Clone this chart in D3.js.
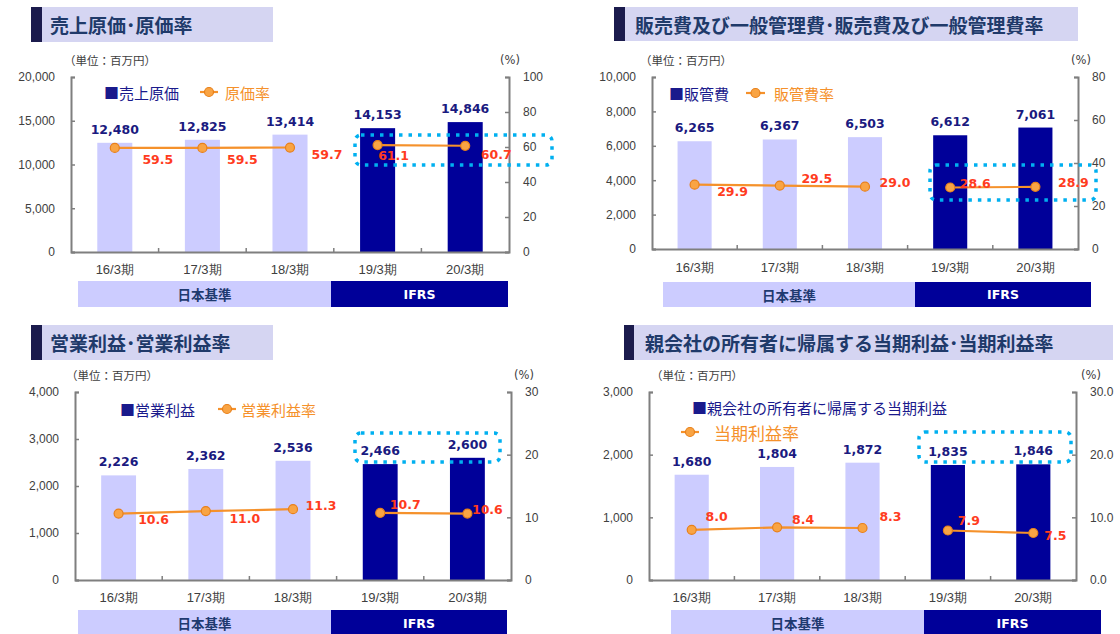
<!DOCTYPE html>
<html>
<head>
<meta charset="utf-8">
<script src="https://cdn.jsdelivr.net/npm/d3@7"></script>
<style>
  body { margin: 0; background: #fff; }
  svg { display: block; font-family: "DejaVu Sans", "Noto Sans CJK JP", sans-serif; }
  .jp { font-family: "Noto Sans CJK JP", sans-serif; }
</style>
</head>
<body>
<svg id="chart" width="1120" height="634"></svg>
<script>
// ---- data ----
const periods = ["16/3期", "17/3期", "18/3期", "19/3期", "20/3期"];
const standardOf = ["日本基準", "日本基準", "日本基準", "IFRS", "IFRS"];

const costValues = [12480, 12825, 13414, 14153, 14846];
const costRates = [59.5, 59.5, 59.7, 61.1, 60.7];
const costTicks = [0, 5000, 10000, 15000, 20000];
const costRateTicks = [0, 20, 40, 60, 80, 100];

const sgaValues = [6265, 6367, 6503, 6612, 7061];
const sgaRates = [29.9, 29.5, 29.0, 28.6, 28.9];
const sgaTicks = [0, 2000, 4000, 6000, 8000, 10000];
const sgaRateTicks = [0, 20, 40, 60, 80];

const opValues = [2226, 2362, 2536, 2466, 2600];
const opRates = [10.6, 11.0, 11.3, 10.7, 10.6];
const opTicks = [0, 1000, 2000, 3000, 4000];
const opRateTicks = [0, 10, 20, 30];

const netValues = [1680, 1804, 1872, 1835, 1846];
const netRates = [8.0, 8.4, 8.3, 7.9, 7.5];
const netTicks = [0, 1000, 2000, 3000];
const netRateTicks = [0, 10, 20, 30];

const LIGHT = "#ccccff", DARK = "#000099", ORANGE = "#f5912b", RATE_TXT = "#ff3c1e";

const svg = d3.select("#chart");

// layout of each panel
const panels = [
  {
    title: "売上原価･原価率", barName: "売上原価", rateName: "原価率",
    values: costValues, rates: costRates, leftTicks: costTicks, rightTicks: costRateTicks, rightFmt: d3.format("d"),
    L: { title: [31, 7, 273, 35, 11], titleTx: 50, unit: [64, 60], pct: 500,
         x0: 71, x1: 509, yTop: 77, yBot: 252,
         leg1: [104, 92], leg2: [200, 218, 92, 225], leg2Size: 15,
         box: [355, 135, 552, 165], band: [78, 331, 508, 281, 26], xlab: 272,
         offs: [[43, 12], [40, 12], [37, 7], [16, 10], [31, 9]] }
  },
  {
    title: "販売費及び一般管理費･販売費及び一般管理費率", barName: "販管費", rateName: "販管費率",
    values: sgaValues, rates: sgaRates, leftTicks: sgaTicks, rightTicks: sgaRateTicks, rightFmt: d3.format("d"),
    L: { title: [614, 7, 1078, 34, 11], titleTx: 635, unit: [640, 60], pct: 1071,
         x0: 652, x1: 1078, yTop: 77, yBot: 249,
         leg1: [669, 93], leg2: [746, 765, 93, 774], leg2Size: 15,
         box: [930, 165, 1096, 200], band: [663, 915, 1091, 282, 25], xlab: 270,
         offs: [[38, 7], [37, -7], [30, -4], [25, -4], [38, -4]] }
  },
  {
    title: "営業利益･営業利益率", barName: "営業利益", rateName: "営業利益率",
    values: opValues, rates: opRates, leftTicks: opTicks, rightTicks: opRateTicks, rightFmt: d3.format("d"),
    L: { title: [31, 325, 273, 35, 11], titleTx: 50, unit: [66, 375], pct: 514,
         x0: 75, x1: 511, yTop: 392, yBot: 580,
         leg1: [120, 409], leg2: [218, 236, 409, 241], leg2Size: 15,
         box: [355, 433, 500, 462], band: [78, 331, 507, 610, 26], xlab: 600,
         offs: [[35, 6], [39, 7], [28, -4], [25, -8], [20, -4]] }
  },
  {
    title: "親会社の所有者に帰属する当期利益･当期利益率", barName: "親会社の所有者に帰属する当期利益", rateName: "当期利益率",
    values: netValues, rates: netRates, leftTicks: netTicks, rightTicks: netRateTicks, rightFmt: d3.format(".1f"),
    L: { title: [624, 325, 1113, 35, 10], titleTx: 645, unit: [651, 375], pct: 1081,
         x0: 649, x1: 1076, yTop: 392, yBot: 580,
         leg1: [692, 407], leg2: [681, 699, 432, 714], leg2Size: 17,
         box: [919, 432, 1071, 462], band: [671, 924, 1101, 610, 26], xlab: 600,
         offs: [[25, -13], [26, -8], [28, -11], [21, -10], [22, 2]] }
  }
];

function styleAxis(g) {
  g.select(".domain").attr("stroke", "#7f7f7f").attr("stroke-width", 2);
  g.selectAll(".tick line").attr("stroke", "#7f7f7f").attr("stroke-width", 1.5);
  g.selectAll(".tick text").attr("fill", "#404040").style("font-size", "12px");
}

function drawPanel(p) {
  const L = p.L;
  const g = svg.append("g");

  // title box
  g.append("rect").attr("x", L.title[0]).attr("y", L.title[1])
    .attr("width", L.title[2] - L.title[0]).attr("height", L.title[3]).attr("fill", "#d5d5f2");
  g.append("rect").attr("x", L.title[0]).attr("y", L.title[1])
    .attr("width", L.title[4]).attr("height", L.title[3]).attr("fill", "#1b1b4d");
  g.append("text").attr("class", "jp").attr("x", L.titleTx).attr("y", L.title[1] + L.title[3] / 2)
    .attr("dominant-baseline", "central").attr("fill", "#203a6a")
    .style("font-size", "19px").style("font-weight", "bold").text(p.title);

  g.append("text").attr("class", "jp").attr("x", L.unit[0]).attr("y", L.unit[1])
    .attr("dominant-baseline", "central").attr("fill", "#404040").style("font-size", "11.5px")
    .text("（単位：百万円）");
  g.append("text").attr("x", L.pct).attr("y", L.unit[1])
    .attr("dominant-baseline", "central").attr("fill", "#404040").style("font-size", "11.5px")
    .text("(%)");

  const x = d3.scaleBand().domain(periods).range([L.x0, L.x1]).paddingInner(0.6).paddingOuter(0.3);
  const y = d3.scaleLinear().domain([0, d3.max(p.leftTicks)]).range([L.yBot, L.yTop]);
  const yr = d3.scaleLinear().domain([0, d3.max(p.rightTicks)]).range([L.yBot, L.yTop]);

  // bars
  g.selectAll(".bar").data(p.values).enter().append("rect")
    .attr("x", (d, i) => x(periods[i]))
    .attr("y", d => y(d))
    .attr("width", x.bandwidth())
    .attr("height", d => L.yBot - y(d))
    .attr("fill", (d, i) => standardOf[i] === "IFRS" ? DARK : LIGHT);

  // axes
  const gl = g.append("g").attr("transform", "translate(" + L.x0 + ",0)")
    .call(d3.axisLeft(y).tickValues(p.leftTicks).tickFormat(d3.format(","))
      .tickSizeInner(-4).tickSizeOuter(-4).tickPadding(16));
  styleAxis(gl);

  const gr = g.append("g").attr("transform", "translate(" + L.x1 + ",0)")
    .call(d3.axisRight(yr).tickValues(p.rightTicks).tickFormat(p.rightFmt)
      .tickSizeInner(-4).tickSizeOuter(-4).tickPadding(14));
  styleAxis(gr);

  const gb = g.append("g").attr("transform", "translate(0," + L.yBot + ")")
    .call(d3.axisBottom(x).tickSize(0).tickPadding(L.xlab - L.yBot - 7));
  styleAxis(gb);
  gb.selectAll(".tick text").style("font-size", "13px");

  // category boundary ticks
  gb.selectAll(".sep").data(periods.slice(1)).enter().append("line")
    .attr("x1", d => x(d) - x.step() * x.paddingInner() / 2)
    .attr("x2", d => x(d) - x.step() * x.paddingInner() / 2)
    .attr("y1", 0).attr("y2", -4)
    .attr("stroke", "#7f7f7f").attr("stroke-width", 1.5);

  // value labels
  g.selectAll(".vlab").data(p.values).enter().append("text")
    .attr("x", (d, i) => x(periods[i]) + x.bandwidth() / 2)
    .attr("y", d => y(d) - 9)
    .attr("text-anchor", "middle").attr("fill", "#1a1a80")
    .style("font-size", "12.5px").style("font-weight", "bold")
    .text(d => d3.format(",")(d));

  // dotted highlight box
  const b = L.box;
  g.append("rect").attr("x", b[0]).attr("y", b[1]).attr("width", b[2] - b[0]).attr("height", b[3] - b[1])
    .attr("rx", 6).attr("fill", "none").attr("stroke", "#00b0f0")
    .attr("stroke-width", 3.5).attr("stroke-dasharray", "3.5 6");

  // rate line, split by accounting standard
  const cx = i => x(periods[i]) + x.bandwidth() / 2;
  const line = d3.line().x(i => cx(i)).y(i => yr(p.rates[i]));
  const groups = d3.groups(d3.range(periods.length), i => standardOf[i]);
  groups.forEach(([, idx]) => {
    g.append("path").attr("d", line(idx)).attr("fill", "none")
      .attr("stroke", ORANGE).attr("stroke-width", 2.2);
  });
  g.selectAll(".dot").data(p.rates).enter().append("circle")
    .attr("cx", (d, i) => cx(i)).attr("cy", d => yr(d)).attr("r", 4.5)
    .attr("fill", "#f9a444").attr("stroke", "#e8801a").attr("stroke-width", 1.2);

  g.selectAll(".rlab").data(p.rates).enter().append("text")
    .attr("x", (d, i) => cx(i) + L.offs[i][0])
    .attr("y", (d, i) => yr(d) + L.offs[i][1])
    .attr("text-anchor", "middle").attr("dominant-baseline", "central")
    .attr("fill", RATE_TXT).style("font-size", "12.5px").style("font-weight", "bold")
    .text(d => d3.format(".1f")(d));

  // legend
  g.append("text").attr("class", "jp").attr("x", L.leg1[0]).attr("y", L.leg1[1])
    .attr("dominant-baseline", "central").attr("fill", "#1a1a8c").style("font-size", "15px")
    .text("■" + p.barName);
  const l2 = L.leg2;
  g.append("line").attr("x1", l2[0]).attr("x2", l2[1]).attr("y1", l2[2]).attr("y2", l2[2])
    .attr("stroke", ORANGE).attr("stroke-width", 2.2);
  g.append("circle").attr("cx", (l2[0] + l2[1]) / 2).attr("cy", l2[2]).attr("r", 4.5)
    .attr("fill", "#f9a444").attr("stroke", "#e8801a").attr("stroke-width", 1.2);
  g.append("text").attr("class", "jp").attr("x", l2[3]).attr("y", l2[2])
    .attr("dominant-baseline", "central").attr("fill", "#f5912b").style("font-size", L.leg2Size + "px")
    .text(p.rateName);

  // accounting standard band
  const bd = L.band;
  g.append("rect").attr("x", bd[0]).attr("y", bd[3]).attr("width", bd[1] - bd[0]).attr("height", bd[4]).attr("fill", LIGHT);
  g.append("rect").attr("x", bd[1]).attr("y", bd[3]).attr("width", bd[2] - bd[1]).attr("height", bd[4]).attr("fill", DARK);
  g.append("text").attr("class", "jp").attr("x", (bd[0] + bd[1]) / 2).attr("y", bd[3] + bd[4] / 2)
    .attr("text-anchor", "middle").attr("dominant-baseline", "central").attr("fill", "#1f3a70")
    .style("font-size", "13.5px").style("font-weight", "bold").text(standardOf[0]);
  g.append("text").attr("x", (bd[1] + bd[2]) / 2).attr("y", bd[3] + bd[4] / 2)
    .attr("text-anchor", "middle").attr("dominant-baseline", "central").attr("fill", "#fff")
    .style("font-size", "12.5px").style("font-weight", "bold").text(standardOf[3]);
}

panels.forEach(drawPanel);
</script>
</body>
</html>
